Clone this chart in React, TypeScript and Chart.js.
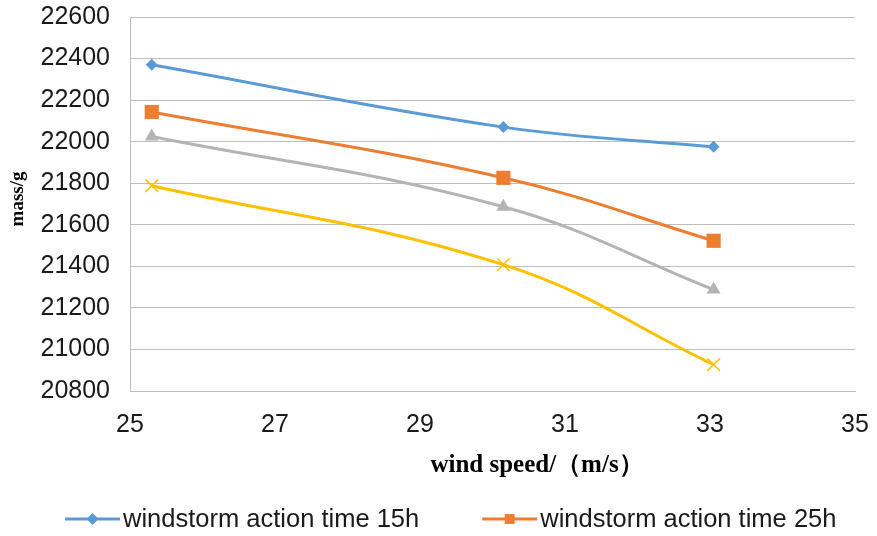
import React, { useEffect, useRef } from "react";
import { Chart, registerables } from "chart.js";

Chart.register(...registerables);

// Wind speed (m/s) at which each specimen was weighed
const windSpeeds = [25.3, 30.15, 33.05];

// Remaining mass (g) after each windstorm action time
const mass15h = [22370, 22070, 21975];
const mass25h = [22143, 21826, 21523];
const mass35h = [22025, 21687, 21288];
const mass45h = [21788, 21408, 20927];

const seriesNames = [
  "windstorm action time 15h",
  "windstorm action time 25h",
  "windstorm action time 35h",
  "windstorm action time 45h",
];
const seriesColors = ["#5B9BD5", "#ED7D31", "#B4B4B4", "#FFC000"];
const seriesMarkers = ["rectRot", "rect", "triangle", "crossRot"];
const markerRadii = [6, 10, 8, 9];

const xTitle = "wind speed/（m/s）";
const yTitle = "mass/g";

const xMin = 25;
const xMax = 35;
const xStep = 2;
const yMin = 20800;
const yMax = 22600;
const yStep = 200;

const sansFont = "'Liberation Sans', Arial, sans-serif";
const serifFont = "'Liberation Serif', 'Times New Roman', serif";

function drawMarker(
  ctx: CanvasRenderingContext2D,
  style: string,
  x: number,
  y: number,
  r: number,
  color: string
) {
  ctx.save();
  ctx.fillStyle = color;
  ctx.strokeStyle = color;
  ctx.beginPath();
  if (style === "rectRot") {
    ctx.moveTo(x, y - r);
    ctx.lineTo(x + r, y);
    ctx.lineTo(x, y + r);
    ctx.lineTo(x - r, y);
    ctx.closePath();
    ctx.fill();
  } else if (style === "rect") {
    const s = r * Math.SQRT1_2;
    ctx.rect(x - s, y - s, 2 * s, 2 * s);
    ctx.fill();
  } else if (style === "triangle") {
    ctx.moveTo(x, y - r);
    ctx.lineTo(x + r * 0.866, y + r * 0.5);
    ctx.lineTo(x - r * 0.866, y + r * 0.5);
    ctx.closePath();
    ctx.fill();
  } else {
    const d = r * Math.SQRT1_2;
    ctx.lineWidth = 1.5;
    ctx.moveTo(x - d, y - d);
    ctx.lineTo(x + d, y + d);
    ctx.moveTo(x + d, y - d);
    ctx.lineTo(x - d, y + d);
    ctx.stroke();
  }
  ctx.restore();
}

// Axis titles and the line-with-marker legend
const decorations = {
  id: "decorations",
  afterDraw(chart: any) {
    const ctx: CanvasRenderingContext2D = chart.ctx;
    ctx.save();
    ctx.fillStyle = "#000000";
    ctx.textBaseline = "middle";
    ctx.textAlign = "center";

    ctx.font = `bold 25px ${serifFont}`;
    ctx.fillText(xTitle, 537, 466);

    ctx.save();
    ctx.translate(18, 199);
    ctx.rotate(-Math.PI / 2);
    ctx.font = `bold 19px ${serifFont}`;
    ctx.fillText(yTitle, 0, 0);
    ctx.restore();

    // legend rows
    ctx.font = `25.5px ${sansFont}`;
    ctx.textAlign = "left";
    const lineLen = 55;
    const textGap = 3;
    const itemGap = 63;
    const startX = 65;
    let x = startX;
    let y = 519;
    chart.data.datasets.forEach((ds: any, i: number) => {
      const w = lineLen + textGap + ctx.measureText(ds.label).width;
      if (x > startX && x + w > chart.width) {
        x = startX;
        y += 32;
      }
      ctx.save();
      ctx.strokeStyle = seriesColors[i];
      ctx.lineWidth = 3;
      ctx.beginPath();
      ctx.moveTo(x, y);
      ctx.lineTo(x + lineLen, y);
      ctx.stroke();
      ctx.restore();
      drawMarker(ctx, seriesMarkers[i], x + lineLen / 2, y, Math.min(markerRadii[i], 7), seriesColors[i]);
      ctx.fillStyle = "#1a1a1a";
      ctx.fillText(ds.label, x + lineLen + textGap, y + 1);
      x += w + itemGap;
    });
    ctx.restore();
  },
};

export default function App() {
  const canvasRef = useRef<HTMLCanvasElement | null>(null);

  useEffect(() => {
    document.body.style.margin = "0";
    const canvas = canvasRef.current;
    if (!canvas) return;

    const seriesValues = [mass15h, mass25h, mass35h, mass45h];
    const datasets = seriesValues.map((vals, i) => ({
      label: seriesNames[i],
      data: windSpeeds.map((x, k) => ({ x, y: vals[k] })),
      borderColor: seriesColors[i],
      backgroundColor: seriesColors[i],
      pointBackgroundColor: seriesColors[i],
      pointBorderColor: seriesColors[i],
      pointBorderWidth: seriesMarkers[i] === "crossRot" ? 1.5 : 0,
      pointStyle: seriesMarkers[i],
      pointRadius: markerRadii[i],
      borderWidth: 3,
      tension: 0.4,
      fill: false,
    }));

    const chart = new Chart(canvas, {
      type: "line",
      data: { datasets },
      options: {
        responsive: false,
        animation: false,
        layout: { padding: { left: 0, right: 22, top: 17, bottom: 0 } },
        plugins: {
          legend: { display: false },
          tooltip: { enabled: false },
        },
        scales: {
          x: {
            type: "linear",
            min: xMin,
            max: xMax,
            ticks: {
              stepSize: xStep,
              padding: 0,
              color: "#1a1a1a",
              font: { family: sansFont, size: 25 },
              maxRotation: 0,
              callback: (v: any) => String(v),
            },
            grid: { display: false, drawTicks: true, tickLength: 19 },
            border: { display: true, color: "#BFBFBF", width: 1 },
            afterFit(scale: any) {
              scale.height = 536 - 391;
            },
          },
          y: {
            type: "linear",
            min: yMin,
            max: yMax,
            ticks: {
              stepSize: yStep,
              padding: 0,
              color: "#1a1a1a",
              font: { family: sansFont, size: 25 },
              callback: (v: any) => String(v),
            },
            grid: {
              color: "#BFBFBF",
              lineWidth: 1,
              drawTicks: true,
              tickLength: 20,
              tickColor: "rgba(0,0,0,0)",
            },
            border: { display: true, color: "#BFBFBF", width: 1 },
            afterFit(scale: any) {
              scale.width = 130;
            },
          },
        },
      },
      plugins: [decorations],
    });

    return () => chart.destroy();
  }, []);

  return (
    <div style={{ width: 877, height: 536 }}>
      <canvas ref={canvasRef} width={877} height={536} />
    </div>
  );
}
